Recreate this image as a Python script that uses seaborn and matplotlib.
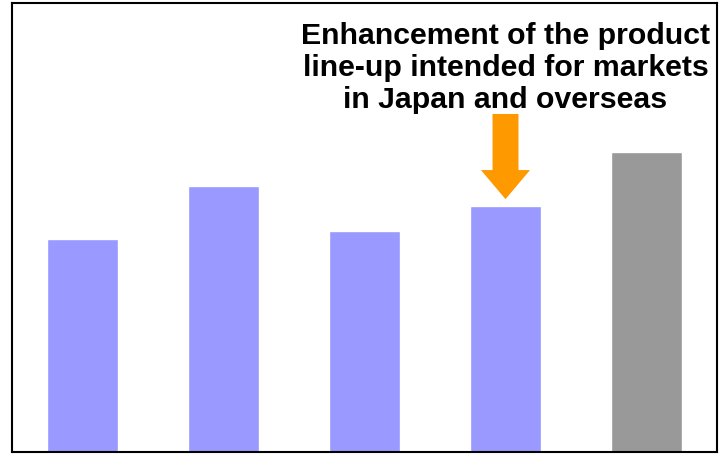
import pandas as pd
import seaborn as sns
import matplotlib.pyplot as plt

periods = ['P1', 'P2', 'P3', 'P4', 'P5']
values = [71.0, 88.7, 73.7, 82.0, 100.0]
bar_colors = ['#9999FF', '#9999FF', '#9999FF', '#9999FF', '#999999']
note = 'Enhancement of the product\nline-up intended for markets\nin Japan and overseas'

df = pd.DataFrame({'period': periods, 'value': values})

sns.set_style('white')
plt.rcParams['font.family'] = ['Liberation Sans', 'DejaVu Sans']

fig = plt.figure(figsize=(7.27, 4.56), dpi=100)
ax = fig.add_axes([12 / 727, 3 / 456, 705 / 727, 449 / 456])

sns.barplot(data=df, x='period', y='value', hue='period', palette=bar_colors,
            width=0.5, legend=False, ax=ax, saturation=1)

ax.set_ylim(0, 149.7)
ax.set_xlim(-0.5, 4.5)
ax.set(xlabel='', ylabel='', xticks=[], yticks=[])
for s in ax.spines.values():
    s.set_color('black')
    s.set_linewidth(1.5)

# arrow pointing at the fourth bar
ax.arrow(3, 112.7, 0, -28.4, width=0.184, head_width=0.348, head_length=9.7,
         length_includes_head=True, color='#FF9900', linewidth=0)
ax.text(3, 128.3, note, ha='center', va='center', fontsize=21.8,
        fontweight='bold', linespacing=1.18, color='black')

fig.savefig('out.png', dpi=100)
